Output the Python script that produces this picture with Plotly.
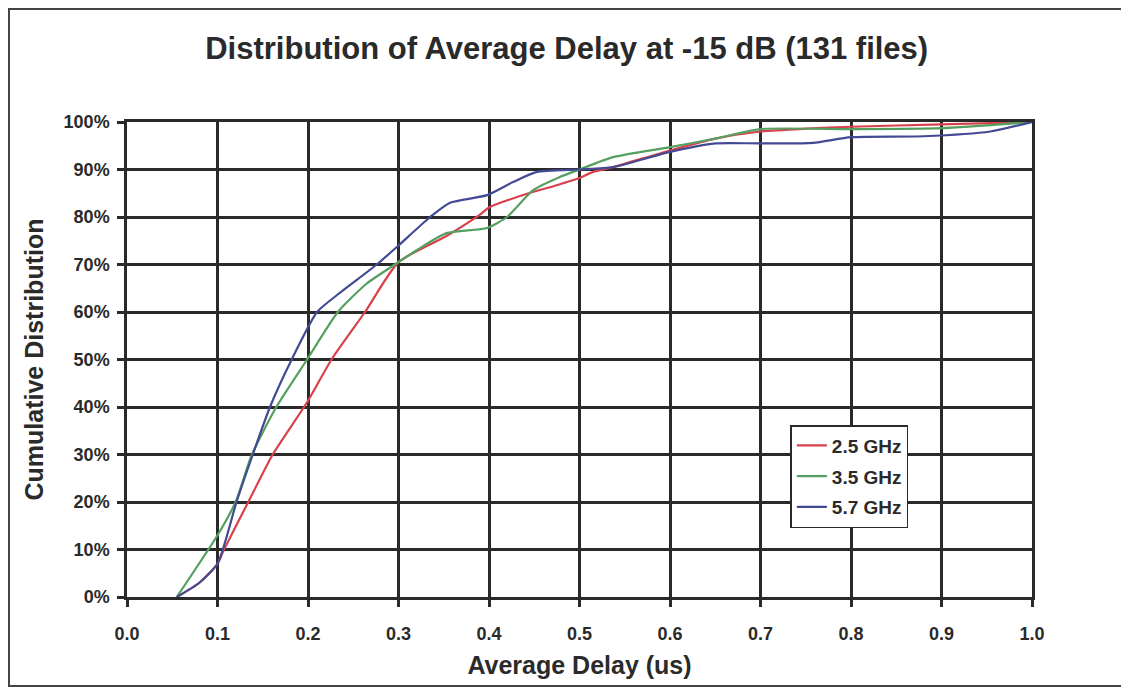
import plotly.graph_objects as go

# 2.5 GHz
x_25 = [0.055, 0.08, 0.10, 0.106, 0.134, 0.161, 0.199, 0.226, 0.263, 0.300, 0.353, 0.39, 0.40, 0.449, 0.475, 0.50, 0.515, 0.537, 0.60, 0.65, 0.70, 0.75, 0.80, 0.90, 1.0]
y_25 = [0.0, 3.0, 7.0, 9.5, 20, 30, 41, 50, 60, 70.5, 76, 80.5, 82, 85.3, 86.7, 88.2, 89.5, 90.5, 94, 96.5, 98, 98.6, 99, 99.5, 100]

# 3.5 GHz
x_35 = [0.055, 0.10, 0.12, 0.138, 0.165, 0.199, 0.233, 0.265, 0.296, 0.32, 0.353, 0.398, 0.42, 0.449, 0.478, 0.50, 0.537, 0.60, 0.65, 0.70, 0.80, 0.90, 1.0]
y_35 = [0.0, 13, 20, 30, 40, 50, 60, 66, 70, 73, 76.6, 77.7, 80, 85.7, 88.4, 90, 92.6, 94.7, 96.5, 98.5, 98.5, 98.7, 100]

# 5.7 GHz
x_57 = [0.055, 0.08, 0.10, 0.121, 0.139, 0.158, 0.182, 0.21, 0.235, 0.276, 0.30, 0.335, 0.357, 0.398, 0.427, 0.453, 0.50, 0.537, 0.60, 0.65, 0.70, 0.758, 0.80, 0.88, 0.954, 1.0]
y_57 = [0.0, 3.0, 7.0, 20, 30, 40, 50, 60, 64, 70, 74, 80, 83, 84.6, 87.4, 89.5, 90, 90.5, 93.7, 95.5, 95.5, 95.6, 96.8, 97, 98, 100]

x_ticks = [0.0, 0.1, 0.2, 0.3, 0.4, 0.5, 0.6, 0.7, 0.8, 0.9, 1.0]
x_tick_labels = ["0.0", "0.1", "0.2", "0.3", "0.4", "0.5", "0.6", "0.7", "0.8", "0.9", "1.0"]
y_ticks = [0, 10, 20, 30, 40, 50, 60, 70, 80, 90, 100]
y_tick_labels = ["0%", "10%", "20%", "30%", "40%", "50%", "60%", "70%", "80%", "90%", "100%"]

FONT = "Liberation Sans, Arial, sans-serif"
INK = "#2a2a2a"

fig = go.Figure()
series = [("2.5 GHz", x_25, y_25, "#d8404c"),
          ("3.5 GHz", x_35, y_35, "#55a060"),
          ("5.7 GHz", x_57, y_57, "#434a94")]
for i, (name, xs, ys, col) in enumerate(series):
    fig.add_trace(go.Scatter(x=xs, y=ys, mode="lines", name="<b>%s</b>" % name,
                             line=dict(color=col, width=2.2, shape="spline", smoothing=0.6),
                             legendgroup=str(i)))

W, H = 1113, 679
fig.update_layout(
    width=W, height=H,
    margin=dict(l=119, r=89, t=114, b=90),
    paper_bgcolor="white", plot_bgcolor="white",
    title=dict(text="<b>Distribution of Average Delay at -15 dB (131 files)</b>",
               x=0.502, xanchor="center", y=0.941, yanchor="middle",
               font=dict(family=FONT, size=31, color=INK)),
    font=dict(family=FONT, color=INK),
    legend=dict(x=0.733, y=0.362, xanchor="left", yanchor="top",
                bgcolor="white", bordercolor=INK, borderwidth=1.5,
                font=dict(family=FONT, size=19, color=INK),
                traceorder="grouped", tracegroupgap=3),
    showlegend=True,
)
fig.update_xaxes(range=[0, 1.0], tickvals=x_ticks, ticktext=["<b>%s</b>" % t for t in x_tick_labels],
                 showgrid=True, gridcolor=INK, gridwidth=2.5,
                 showline=True, linecolor=INK, linewidth=2.5, mirror=True,
                 ticks="outside", ticklen=7, tickwidth=2.5, tickcolor=INK,
                 ticklabelstandoff=12,
                 tickfont=dict(size=18, family=FONT, color=INK), zeroline=False,
                 title=dict(text="<b>Average Delay (us)</b>", font=dict(size=25, family=FONT, color=INK), standoff=14))
fig.update_yaxes(range=[0, 100], tickvals=y_ticks, ticktext=["<b>%s</b>" % t for t in y_tick_labels],
                 showgrid=True, gridcolor=INK, gridwidth=2.5,
                 showline=True, linecolor=INK, linewidth=2.5, mirror=True,
                 ticks="outside", ticklen=7, tickwidth=2.5, tickcolor=INK,
                 ticklabelstandoff=4,
                 tickfont=dict(size=18, family=FONT, color=INK), zeroline=False,
                 title=dict(text="<b>Cumulative Distribution</b>", font=dict(size=25, family=FONT, color=INK), standoff=13))

fig.add_shape(type="rect", xref="paper", yref="paper",
              x0=-0.1304, x1=1.1016, y0=-0.1874, y1=1.2379,
              line=dict(color="#444", width=2), fillcolor="rgba(0,0,0,0)", layer="below")

fig.write_html("out.html")
